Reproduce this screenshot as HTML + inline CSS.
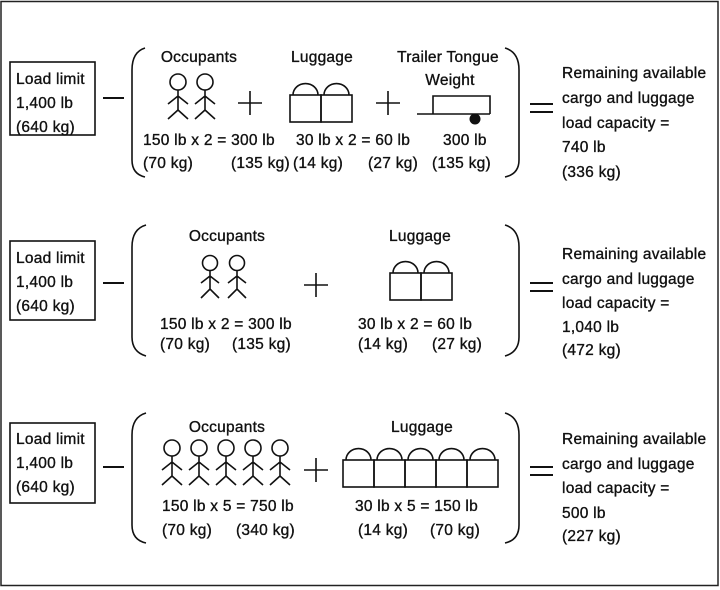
<!DOCTYPE html>
<html><head><style>
body{margin:0;background:#fff}
svg{display:block}
text{font-family:"Liberation Sans",sans-serif;font-size:15.5px;letter-spacing:0.25px;fill:#111;stroke:#111;stroke-width:0.35}
.l{fill:none;stroke:#111;stroke-width:1.6}
.e{fill:none;stroke:#111;stroke-width:2}
</style></head><body>
<svg width="720" height="590" viewBox="0 0 720 590">
<defs>
<g id="fig"><circle cx="0" cy="0" r="8" fill="none" stroke="#111" stroke-width="1.6"/><path d="M0 8V28M-10 22L0 14L10 22M-10 37L0 28L10 37" fill="none" stroke="#111" stroke-width="1.6"/></g>
<g id="fig2"><circle cx="0" cy="0" r="7.5" fill="none" stroke="#111" stroke-width="1.6"/><path d="M0 7.5V26M-9 20L0 13L9 20M-9 35L0 26L9 35" fill="none" stroke="#111" stroke-width="1.6"/></g>
<g id="lb"><path d="M3 0A12 11 0 0 1 28 0" fill="none" stroke="#111" stroke-width="1.6"/><rect x="0" y="0" width="31" height="27" fill="none" stroke="#111" stroke-width="1.6"/></g>
</defs>
<rect x="1" y="1.5" width="717" height="584" fill="none" stroke="#222" stroke-width="1.5"/>

<!-- Row 1 -->
<rect x="10" y="62" width="85" height="73" class="l"/>
<text x="16" y="84">Load limit</text><text x="16" y="108">1,400 lb</text><text x="16" y="132">(640 kg)</text>
<path d="M103 98H124" class="e"/>
<path d="M145 48Q132 52 132 70V160Q132 174 145 177" class="l"/>
<text x="199" y="62" text-anchor="middle">Occupants</text>
<use href="#fig" x="178" y="82"/><use href="#fig" x="205" y="82"/>
<path d="M238 103H262M250 91V115" class="l"/>
<text x="322" y="62" text-anchor="middle">Luggage</text>
<use href="#lb" x="290" y="95"/><use href="#lb" x="321" y="95"/>
<path d="M376 103H400M388 91V115" class="l"/>
<text x="448" y="62" text-anchor="middle">Trailer Tongue</text>
<text x="450" y="85" text-anchor="middle">Weight</text>
<path d="M417 114H490M433 114V96H490V114" class="l"/>
<circle cx="475" cy="119" r="5.5" fill="#111"/>
<text x="143" y="145">150 lb x 2 = 300 lb</text>
<text x="143" y="168">(70 kg)</text><text x="231" y="168">(135 kg)</text>
<text x="296" y="145">30 lb x 2 = 60 lb</text>
<text x="293" y="168">(14 kg)</text><text x="368" y="168">(27 kg)</text>
<text x="443" y="145">300 lb</text><text x="432" y="168">(135 kg)</text>
<path d="M505 48Q519 52 519 70V160Q519 174 505 177" class="l"/>
<path d="M530 104H553M530 112H553" class="e"/>
<text x="562" y="78">Remaining available</text>
<text x="562" y="103">cargo and luggage</text>
<text x="562" y="128">load capacity =</text>
<text x="562" y="152">740 lb</text>
<text x="562" y="177">(336 kg)</text>

<!-- Row 2 -->
<rect x="10" y="241" width="85" height="79" class="l"/>
<text x="16" y="263">Load limit</text><text x="16" y="287">1,400 lb</text><text x="16" y="311">(640 kg)</text>
<path d="M103 283H124" class="e"/>
<path d="M146 225Q132 229 132 247V337Q132 352 146 356" class="l"/>
<text x="227" y="241" text-anchor="middle">Occupants</text>
<use href="#fig2" x="210" y="263"/><use href="#fig2" x="237" y="263"/>
<path d="M304 285H328M316 273V297" class="l"/>
<text x="420" y="241" text-anchor="middle">Luggage</text>
<use href="#lb" x="390" y="273"/><use href="#lb" x="421" y="273"/>
<text x="160" y="329">150 lb x 2 = 300 lb</text>
<text x="160" y="349">(70 kg)</text><text x="232" y="349">(135 kg)</text>
<text x="358" y="329">30 lb x 2 = 60 lb</text>
<text x="358" y="349">(14 kg)</text><text x="432" y="349">(27 kg)</text>
<path d="M505 225Q519 229 519 247V337Q519 352 505 356" class="l"/>
<path d="M530 283H553M530 291H553" class="e"/>
<text x="562" y="259">Remaining available</text>
<text x="562" y="284">cargo and luggage</text>
<text x="562" y="308">load capacity =</text>
<text x="562" y="332">1,040 lb</text>
<text x="562" y="355">(472 kg)</text>

<!-- Row 3 -->
<rect x="10" y="423" width="85" height="80" class="l"/>
<text x="16" y="444">Load limit</text><text x="16" y="468">1,400 lb</text><text x="16" y="492">(640 kg)</text>
<path d="M103 467H124" class="e"/>
<path d="M146 413Q132 417 132 435V525Q132 540 146 543" class="l"/>
<text x="227" y="432" text-anchor="middle">Occupants</text>
<use href="#fig" x="172" y="448"/><use href="#fig" x="199" y="448"/><use href="#fig" x="226" y="448"/><use href="#fig" x="253" y="448"/><use href="#fig" x="280" y="448"/>
<path d="M304 470H328M316 458V482" class="l"/>
<text x="422" y="432" text-anchor="middle">Luggage</text>
<use href="#lb" x="343" y="460"/><use href="#lb" x="374" y="460"/><use href="#lb" x="405" y="460"/><use href="#lb" x="436" y="460"/><use href="#lb" x="467" y="460"/>
<text x="162" y="511">150 lb x 5 = 750 lb</text>
<text x="162" y="535">(70 kg)</text><text x="236" y="535">(340 kg)</text>
<text x="355" y="511">30 lb x 5 = 150 lb</text>
<text x="358" y="535">(14 kg)</text><text x="430" y="535">(70 kg)</text>
<path d="M505 413Q519 417 519 435V525Q519 540 505 543" class="l"/>
<path d="M530 467H553M530 475H553" class="e"/>
<text x="562" y="444">Remaining available</text>
<text x="562" y="469">cargo and luggage</text>
<text x="562" y="493">load capacity =</text>
<text x="562" y="518">500 lb</text>
<text x="562" y="541">(227 kg)</text>
</svg>
</body></html>
